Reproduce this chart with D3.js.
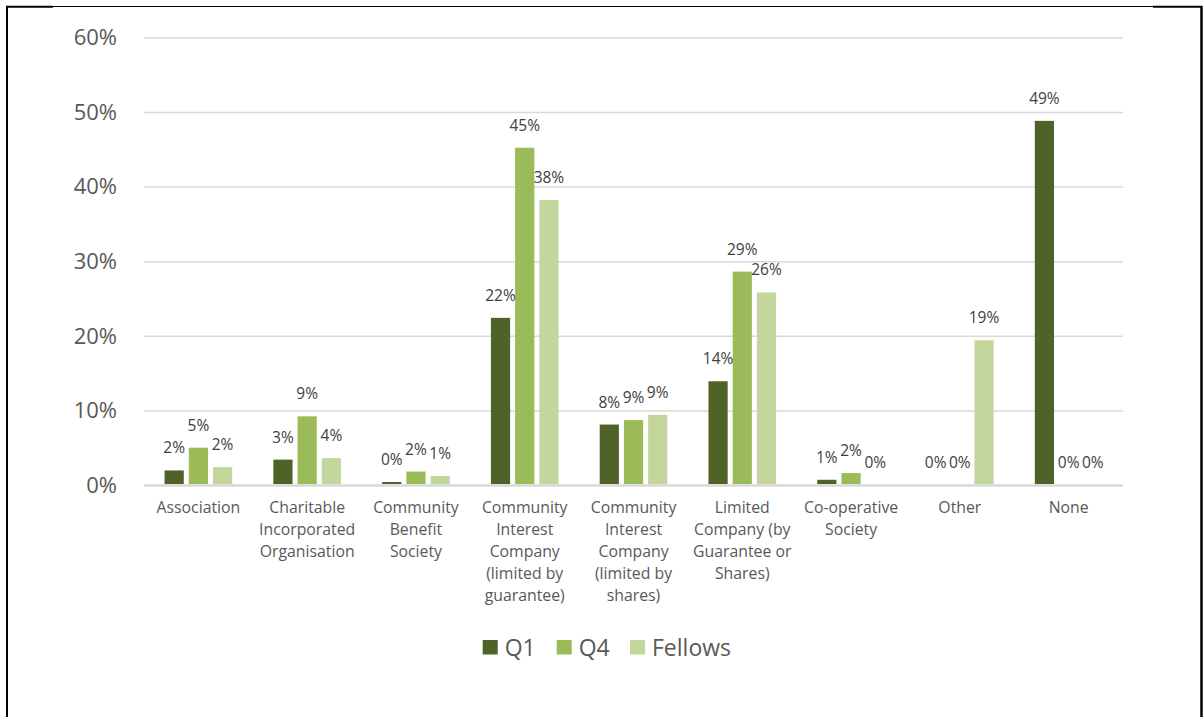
<!DOCTYPE html>
<html>
<head>
<meta charset="utf-8">
<script src="https://cdn.jsdelivr.net/npm/d3@7/dist/d3.min.js"></script>
<style>
  html, body { margin: 0; padding: 0; background: #ffffff; }
  svg { display: block; }
  svg text { font-family: "Open Sans", "Noto Sans", sans-serif; }
</style>
</head>
<body>
<svg id="chart" width="1203" height="717"></svg>
<script>
// Legal structure of organisations, share by survey group
const categories = [
  "Association",
  "Charitable\nIncorporated\nOrganisation",
  "Community\nBenefit\nSociety",
  "Community\nInterest\nCompany\n(limited by\nguarantee)",
  "Community\nInterest\nCompany\n(limited by\nshares)",
  "Limited\nCompany (by\nGuarantee or\nShares)",
  "Co-operative\nSociety",
  "Other",
  "None"
];
const seriesNames = ["Q1", "Q4", "Fellows"];
const q1Values      = [1.95, 3.4, 0.4, 22.4, 8.1, 13.9, 0.7, 0, 48.8];
const q4Values      = [5.0, 9.2, 1.8, 45.2, 8.7, 28.6, 1.6, 0, 0];
const fellowsValues = [2.4, 3.6, 1.2, 38.2, 9.4, 25.8, 0, 19.4, 0];
const yTicks = [0, 10, 20, 30, 40, 50, 60];
const colors = ["#4F6228", "#9BBB59", "#C3D69B"];

const seriesValues = [q1Values, q4Values, fellowsValues];
const rows = categories.map((c, i) => ({
  category: c,
  values: seriesNames.map((s, k) => ({ series: s, value: seriesValues[k][i] }))
}));

const svg = d3.select("#chart");

// frame around the chart area
const frame = svg.append("g");
frame.append("line").attr("x1", 53).attr("x2", 1153).attr("y1", 6.5).attr("y2", 6.5)
  .attr("stroke", "#000").attr("stroke-width", 1.2);
frame.append("line").attr("x1", 6).attr("x2", 53).attr("y1", 6.8).attr("y2", 6.8)
  .attr("stroke", "#000").attr("stroke-width", 2);
frame.append("line").attr("x1", 1153).attr("x2", 1202).attr("y1", 6.8).attr("y2", 6.8)
  .attr("stroke", "#000").attr("stroke-width", 2);
frame.append("line").attr("x1", 7).attr("x2", 7).attr("y1", 6).attr("y2", 717)
  .attr("stroke", "#000").attr("stroke-width", 2);
frame.append("line").attr("x1", 1201.5).attr("x2", 1201.5).attr("y1", 6).attr("y2", 717)
  .attr("stroke", "#000").attr("stroke-width", 2.5);

const plotLeft = 144, plotRight = 1123;
const x0 = d3.scaleBand().domain(categories).range([plotLeft, plotRight]).padding(0);
const y = d3.scaleLinear().domain([0, 60]).range([485, 37.3]);
const groupW = 67.6;
const x1 = d3.scaleBand().domain(seriesNames).range([-groupW / 2, groupW / 2])
  .paddingInner(0.207).paddingOuter(0);
const color = d3.scaleOrdinal().domain(seriesNames).range(colors);

// gridlines and y tick labels
const yAxis = d3.axisLeft(y).tickValues(yTicks)
  .tickFormat(d => d + "%")
  .tickSize(-(plotRight - plotLeft)).tickPadding(27);
const gy = svg.append("g").attr("transform", `translate(${plotLeft},0)`).call(yAxis);
gy.attr("font-family", null).attr("font-size", null);
gy.select(".domain").remove();
gy.selectAll(".tick line")
  .attr("stroke", "#d9d9d9")
  .attr("stroke-width", d => d === 0 ? 2.5 : 1.5);
gy.selectAll(".tick text")
  .attr("fill", "#595959")
  .style("font-size", "22px")
  .attr("dy", "0.33em");

// bars
const groups = svg.append("g").selectAll("g").data(rows).join("g")
  .attr("transform", d => `translate(${x0(d.category) + x0.bandwidth() / 2},0)`);

groups.selectAll("rect").data(d => d.values).join("rect")
  .attr("x", d => x1(d.series))
  .attr("width", x1.bandwidth())
  .attr("y", d => y(d.value))
  .attr("height", d => y(0) - y(d.value) - 1)
  .attr("fill", d => color(d.series));

// value labels
groups.selectAll("text").data(d => d.values).join("text")
  .attr("x", d => x1(d.series) + x1.bandwidth() / 2)
  .attr("y", d => y(d.value) - 17)
  .attr("text-anchor", "middle")
  .attr("fill", "#404040")
  .style("font-size", "15.5px")
  .text(d => Math.round(d.value) + "%");

// category labels
const catG = svg.append("g").selectAll("text").data(categories).join("text")
  .attr("text-anchor", "middle")
  .attr("fill", "#595959")
  .style("font-size", "15.8px")
  .attr("transform", d => `translate(${x0(d) + x0.bandwidth() / 2},513)`);
catG.selectAll("tspan").data(d => d.split("\n")).join("tspan")
  .attr("x", 0)
  .attr("y", (d, i) => i * 22)
  .text(d => d);

// legend
const legendX = [482.7, 556.7, 630];
const legend = svg.append("g").selectAll("g").data(seriesNames).join("g")
  .attr("transform", (d, i) => `translate(${legendX[i]},640)`);
legend.append("rect").attr("width", 15).attr("height", 14.5)
  .attr("fill", d => color(d));
legend.append("text").attr("x", 22).attr("y", 15.5)
  .attr("fill", "#595959")
  .style("font-size", "23px")
  .text(d => d);
</script>
</body>
</html>
